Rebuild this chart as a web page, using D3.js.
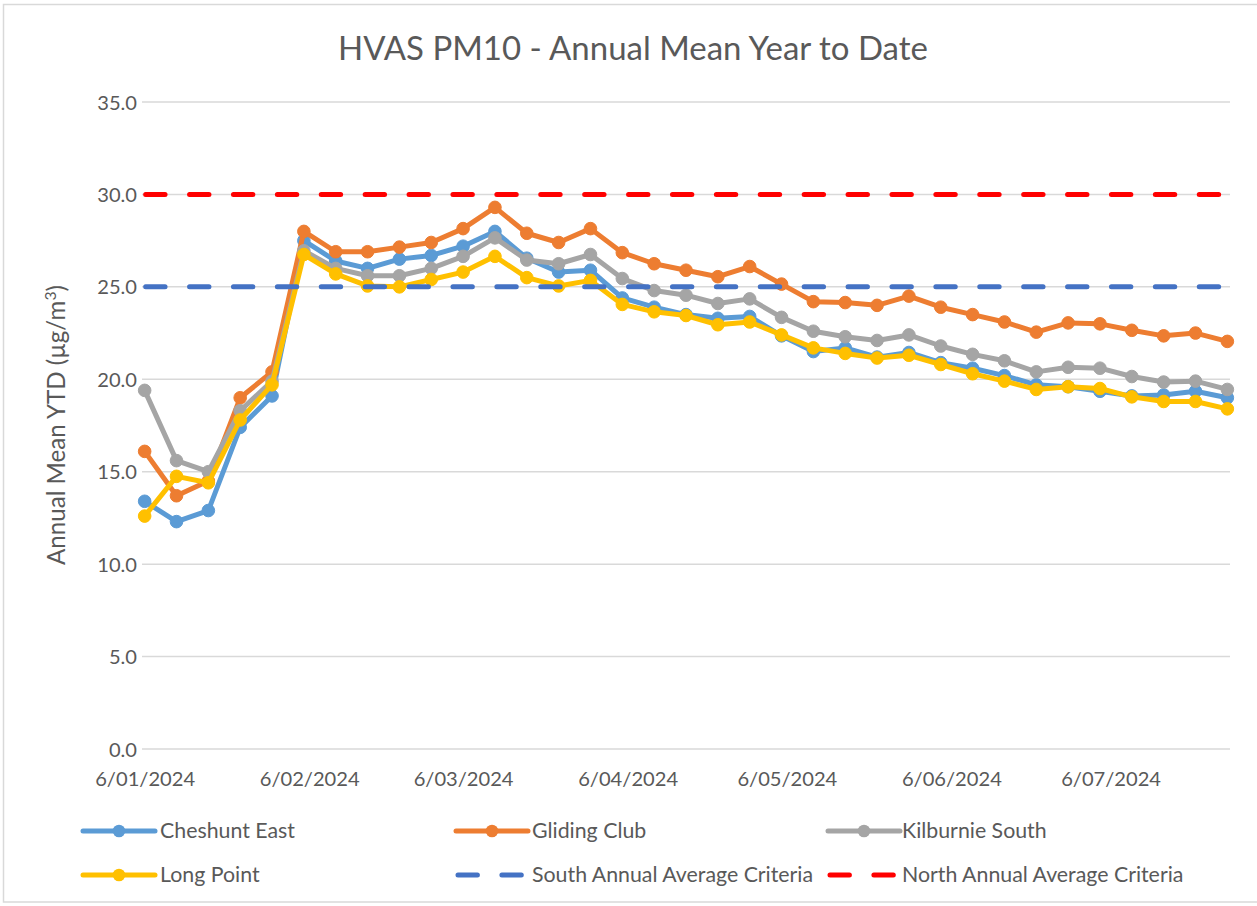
<!DOCTYPE html>
<html><head><meta charset="utf-8">
<script src="https://cdn.jsdelivr.net/npm/d3@7"></script>
<style>html,body{margin:0;padding:0;background:#fff;} svg{display:block;font-family:Lato,"Open Sans",sans-serif;}</style>
</head><body>
<svg id="c" width="1257" height="906"></svg>
<script>
const dates = ["2024-01-06","2024-01-12","2024-01-18","2024-01-24","2024-01-30",
 "2024-02-05","2024-02-11","2024-02-17","2024-02-23","2024-02-29",
 "2024-03-06","2024-03-12","2024-03-18","2024-03-24","2024-03-30",
 "2024-04-05","2024-04-11","2024-04-17","2024-04-23","2024-04-29",
 "2024-05-05","2024-05-11","2024-05-17","2024-05-23","2024-05-29",
 "2024-06-04","2024-06-10","2024-06-16","2024-06-22","2024-06-28",
 "2024-07-04","2024-07-10","2024-07-16","2024-07-22","2024-07-28"];
const cheshuntEast = [13.4,12.3,12.9,17.4,19.1,27.5,26.4,26.0,26.5,26.7,27.2,28.0,26.55,25.8,25.9,24.4,23.9,23.5,23.3,23.4,22.35,21.5,21.7,21.2,21.45,20.9,20.6,20.2,19.7,19.6,19.35,19.1,19.15,19.35,19.0];
const glidingClub = [16.1,13.7,14.5,19.0,20.4,28.0,26.9,26.9,27.15,27.4,28.15,29.3,27.9,27.4,28.15,26.85,26.25,25.9,25.55,26.1,25.15,24.2,24.15,24.0,24.5,23.9,23.5,23.1,22.55,23.05,23.0,22.65,22.35,22.5,22.05];
const kilburnieSouth = [19.4,15.6,15.0,18.3,19.9,26.95,26.0,25.6,25.6,26.0,26.65,27.65,26.45,26.25,26.75,25.45,24.8,24.55,24.1,24.35,23.35,22.6,22.3,22.1,22.4,21.8,21.35,21.0,20.4,20.65,20.6,20.15,19.85,19.9,19.45];
const longPoint = [12.6,14.75,14.4,17.8,19.7,26.75,25.7,25.05,25.0,25.4,25.8,26.65,25.5,25.05,25.35,24.05,23.65,23.45,22.95,23.1,22.4,21.7,21.4,21.15,21.3,20.8,20.3,19.9,19.45,19.6,19.5,19.05,18.8,18.8,18.4];
const southCriteria = 25;
const northCriteria = 30;
const yTicks = [0,5,10,15,20,25,30,35];
const xTickLabels = ["6/01/2024","6/02/2024","6/03/2024","6/04/2024","6/05/2024","6/06/2024","6/07/2024"];
const xTickDates = ["2024-01-06","2024-02-06","2024-03-06","2024-04-06","2024-05-06","2024-06-06","2024-07-06"];
const seriesNames = ["Cheshunt East","Gliding Club","Kilburnie South","Long Point","South Annual Average Criteria","North Annual Average Criteria"];
const colors = ["#5B9BD5","#ED7D31","#A5A5A5","#FFC000","#4472C4","#FF0000"];

const svg = d3.select("#c");
const parse = d3.utcParse("%Y-%m-%d");
const half = 12*3600*1000;
const L = 142, R = 1230, T = 102, B = 749;
const x = d3.scaleUtc().domain([parse("2024-01-06"), parse("2024-07-29")]).range([L, R]);
const y = d3.scaleLinear().domain([0,35]).range([B, T]);
const xc = d => x(new Date(parse(d).getTime()+half));
const txt = "#595959";
const dash = "19.4,24.5";

function fit(sel, target){
  const w = sel.node().getComputedTextLength();
  const fs = parseFloat(sel.attr("font-size"));
  return fs*target/w;
}

// outer border
svg.append("rect").attr("x",3.5).attr("y",4.5).attr("width",1300).attr("height",897.5)
  .attr("fill","none").attr("stroke","#D9D9D9").attr("stroke-width",1.5);

// gridlines
svg.append("g").selectAll("line").data(yTicks).join("line")
  .attr("x1",L).attr("x2",R).attr("y1",d=>y(d)).attr("y2",d=>y(d))
  .attr("stroke","#D9D9D9").attr("stroke-width",1.5);

// y axis labels
const yAxis = svg.append("g").attr("transform",`translate(${L-5},0)`)
  .call(d3.axisLeft(y).tickValues(yTicks).tickFormat(d3.format(".1f")).tickSize(0));
yAxis.select(".domain").remove();
let probe = svg.append("text").attr("font-size",20).text("6/01/2024");
const tickFs = fit(probe, 100); probe.remove();
yAxis.selectAll("text").attr("font-size",tickFs).attr("fill",txt).attr("font-family","Lato").attr("dy","0.35em").attr("x",0);

// x axis labels
const xAxis = svg.append("g").attr("transform",`translate(0,${B})`)
  .call(d3.axisBottom(x).tickValues(xTickDates.map(d=>new Date(parse(d).getTime()+half)))
    .tickFormat((d,i)=>xTickLabels[i]).tickSize(0));
xAxis.select(".domain").remove();
xAxis.selectAll("text").attr("font-size",tickFs).attr("fill",txt).attr("font-family","Lato").attr("dy","0").attr("y",37);

// title
const title = svg.append("text").attr("x",633).attr("y",60).attr("text-anchor","middle")
  .attr("font-size",28).attr("fill",txt).text("HVAS PM10 - Annual Mean Year to Date");
title.attr("font-size", fit(title,590));

// y axis title
const yt = svg.append("text").attr("transform","translate(65,425) rotate(-90)").attr("text-anchor","middle")
  .attr("font-size",20).attr("fill",txt);
yt.append("tspan").text("Annual Mean YTD (µg/m");
yt.append("tspan").attr("baseline-shift","super").attr("font-size","65%").text("3");
yt.append("tspan").text(")");
yt.attr("font-size", 20*280/yt.node().getComputedTextLength());

// series lines
const seriesData = [cheshuntEast, glidingClub, kilburnieSouth, longPoint];
const line = d3.line().x((d,i)=>xc(dates[i])).y(d=>y(d));
const g = svg.append("g");
seriesData.forEach((vals,k)=>{
  g.append("path").attr("d",line(vals)).attr("fill","none").attr("stroke",colors[k])
    .attr("stroke-width",5).attr("stroke-linejoin","round").attr("stroke-linecap","round");
  g.append("g").selectAll("circle").data(vals).join("circle")
    .attr("cx",(d,i)=>xc(dates[i])).attr("cy",d=>y(d)).attr("r",6.3)
    .attr("fill",colors[k]).attr("stroke",colors[k]).attr("stroke-width",1);
});
[southCriteria, northCriteria].forEach((v,k)=>{
  g.append("line").attr("x1",xc(dates[0])+1).attr("x2",xc(dates[dates.length-1]))
    .attr("y1",y(v)).attr("y2",y(v)).attr("stroke",colors[4+k]).attr("stroke-width",5)
    .attr("stroke-dasharray",dash).attr("stroke-linecap","round");
});

// legend
const legX = [83, 456, 828], legY = [831, 875], textX = [160, 532, 902];
probe = svg.append("text").attr("font-size",20).text("Cheshunt East");
const legFs = fit(probe,135); probe.remove();
seriesNames.forEach((n,k)=>{
  const r = Math.floor(k/3), c = k%3;
  const lg = svg.append("g");
  if (k<4){
    lg.append("line").attr("x1",legX[c]).attr("x2",legX[c]+72).attr("y1",legY[r]).attr("y2",legY[r])
      .attr("stroke",colors[k]).attr("stroke-width",5).attr("stroke-linecap","round");
    lg.append("circle").attr("cx",legX[c]+36).attr("cy",legY[r]).attr("r",6.3).attr("fill",colors[k]);
  } else {
    lg.append("line").attr("x1",legX[c]+2).attr("x2",legX[c]+67).attr("y1",legY[r]).attr("y2",legY[r])
      .attr("stroke",colors[k]).attr("stroke-width",5).attr("stroke-dasharray",dash).attr("stroke-linecap","round");
  }
  lg.append("text").attr("x",textX[c]).attr("y",legY[r]).attr("dy","0.35em")
    .attr("font-size",legFs).attr("fill",txt).text(n);
});
</script>
</body></html>
